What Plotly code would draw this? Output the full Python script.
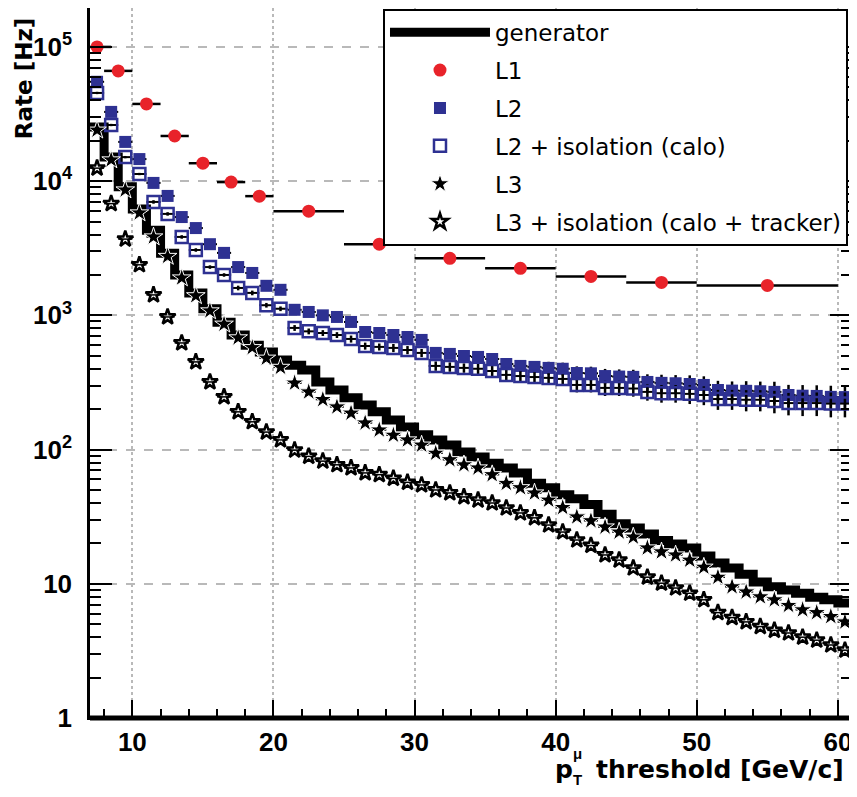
import plotly.graph_objects as go

# ---------------- data ----------------
# pT bins of 1 GeV/c: lower edges 7 ... 60
bin_lo = list(range(7, 61))
bin_ctr = [b + 0.5 for b in bin_lo]

generator = [25300, 15100, 9100, 6200, 4300, 2900, 2000, 1470, 1120, 890,
             714, 600, 534, 465, 425, 392, 319, 278, 243, 215,
             191, 166, 147, 129, 118, 108, 96, 88, 79, 73,
             67, 56, 52, 46, 43, 39, 33, 28, 26, 23.5,
             21, 19.8, 18.5, 16.1, 14.3, 13.1, 11.8, 10.3, 9.5, 9.0,
             8.5, 7.95, 7.6, 7.2]

l1_x = [7.5, 9, 11, 13, 15, 17, 19, 22.5, 27.5, 32.5, 37.5, 42.5, 47.5, 55]
l1_halfwidth = [1, 1, 1, 1, 1, 1, 1, 2.5, 2.5, 2.5, 2.5, 2.5, 2.5, 5]
l1_rate = [100000, 66300, 37600, 21700, 13600, 9840, 7730, 5970, 3390, 2660,
           2240, 1950, 1760, 1670]

l2_rate = [55000, 32800, 19600, 14600, 9700, 7760, 5400, 4470, 3390, 2920,
           2290, 2070, 1660, 1550, 1100, 1060, 1000, 973, 893, 752,
           739, 714, 690, 656, 525, 516, 498, 490, 473, 434,
           420, 413, 406, 400, 372, 370, 353, 350, 348, 319,
           314, 312, 308, 303, 278, 275, 274, 272, 269, 255,
           252, 251, 247, 246]

l2_iso_rate = [45400, 26200, 15100, 11300, 7000, 5700, 3840, 3070, 2290, 2000,
               1600, 1470, 1190, 1120, 806, 760, 739, 714, 667, 591,
               582, 572, 552, 525, 420, 413, 406, 400, 385, 360,
               353, 347, 342, 336, 303, 303, 288, 288, 285, 269,
               263, 263, 260, 255, 238, 238, 235, 235, 230, 222,
               222, 222, 220, 220]

l2_rel_err = [0.02, 0.02, 0.02, 0.02, 0.03, 0.03, 0.03, 0.03,
              0.03, 0.03, 0.04, 0.04, 0.04, 0.04,
              0.05, 0.05, 0.05, 0.05, 0.06, 0.06, 0.06, 0.07, 0.07, 0.07,
              0.08, 0.08, 0.08, 0.09, 0.09, 0.10, 0.10, 0.10, 0.11, 0.11,
              0.12, 0.12, 0.13, 0.13, 0.13, 0.14, 0.15, 0.15, 0.16, 0.16,
              0.17, 0.17, 0.18, 0.18, 0.19, 0.19, 0.20, 0.20, 0.21, 0.21]

l3_rate = [24000, 14400, 8600, 5800, 3840, 2750, 1900, 1400, 1080, 860,
           680, 575, 480, 410, 313, 269, 236, 208, 187, 158,
           140, 128, 118, 108, 94, 84, 77, 73, 65, 56,
           52, 47.5, 42, 37, 31.5, 29.5, 26.5, 24.3, 22.3, 18.5,
           17.3, 16.4, 15.0, 13.3, 11.2, 9.5, 8.7, 8.0, 7.6, 6.9,
           6.4, 6.1, 5.7, 5.2]

l3_iso_rate = [12500, 6800, 3700, 2380, 1420, 973, 623, 450, 319, 247,
               191, 161, 135, 118, 99, 89, 82, 77, 73, 67,
               65, 61, 57, 54.5, 50, 47.5, 44.4, 42, 40, 36.7,
               33.7, 31, 27.4, 24.3, 21.2, 19.3, 16.4, 15.0, 13.1, 11.2,
               10.1, 9.3, 8.5, 7.6, 6.1, 5.6, 5.2, 4.8, 4.5, 4.3,
               4.0, 3.8, 3.5, 3.2]

x_ticks = [10, 20, 30, 40, 50, 60]
x_minor = [8, 12, 14, 16, 18, 22, 24, 26, 28, 32, 34, 36, 38, 42, 44, 46, 48, 52, 54, 56, 58]
y_ticks = [1, 10, 100, 1000, 10000, 100000]
y_ticktext = ["1", "10", "10<sup>2</sup>", "10<sup>3</sup>", "10<sup>4</sup>", "10<sup>5</sup>"]

# ---------------- styling ----------------
RED = "#e8232a"
BLUE = "#2e3192"
FONT = "Liberation Sans"
WIDE = "DejaVu Sans"

fig = go.Figure()

gen_x = bin_lo + [bin_lo[-1] + 1]
gen_y = generator + [generator[-1]]
fig.add_trace(go.Scatter(x=gen_x, y=gen_y, mode="lines", name="generator", legendgroup="g1",
                         line=dict(color="black", width=9, shape="hv")))

fig.add_trace(go.Scatter(x=l1_x, y=l1_rate, mode="markers", name="L1", legendgroup="g2",
                         marker=dict(symbol="circle", size=13, color=RED),
                         error_x=dict(type="data", array=l1_halfwidth, color="black",
                                      thickness=2.5, width=0)))

half_bin = [0.5] * len(bin_ctr)
fig.add_trace(go.Scatter(x=bin_ctr, y=l2_rate, mode="markers", name="L2", legendgroup="g3",
                         marker=dict(symbol="square", size=12, color=BLUE),
                         error_x=dict(type="data", array=half_bin, color="black",
                                      thickness=2, width=0),
                         error_y=dict(type="data", array=[v * e for v, e in zip(l2_rate, l2_rel_err)],
                                      color="black", thickness=2.5, width=0)))

fig.add_trace(go.Scatter(x=bin_ctr, y=l2_iso_rate, mode="markers", name="L2 + isolation (calo)",
                         legendgroup="g4",
                         marker=dict(symbol="square-open", size=12, color=BLUE,
                                     line=dict(width=2.5, color=BLUE)),
                         error_x=dict(type="data", array=half_bin, color="black",
                                      thickness=2, width=0),
                         error_y=dict(type="data", array=[v * e for v, e in zip(l2_iso_rate, l2_rel_err)],
                                      color="black", thickness=2.5, width=0)))

fig.add_trace(go.Scatter(x=bin_ctr, y=l3_rate, mode="markers", name="L3", legendgroup="g5",
                         marker=dict(symbol="star", size=14, color="black",
                                     line=dict(width=1, color="white")),
                         error_x=dict(type="data", array=half_bin, color="black",
                                      thickness=1.5, width=0)))

fig.add_trace(go.Scatter(x=bin_ctr, y=l3_iso_rate, mode="markers",
                         name="L3 + isolation (calo + tracker)", legendgroup="g6",
                         marker=dict(symbol="star-open", size=12, color="black",
                                     line=dict(width=2.5, color="black")),
                         error_x=dict(type="data", array=half_bin, color="black",
                                      thickness=1.5, width=0)))

minor_y = [m * 10 ** e for e in range(0, 6) for m in range(2, 10)]

# The page body adds an 8 px offset, so the figure is made 8 px smaller
fig.update_layout(
    width=849, height=789,
    margin=dict(l=82, r=5, t=0, b=79, autoexpand=False),
    paper_bgcolor="white", plot_bgcolor="white",
    font=dict(family=FONT, color="black"),
    showlegend=True,
    legend=dict(x=0.3845, y=0.999, xanchor="left", yanchor="top",
                bgcolor="white", bordercolor="black", borderwidth=2,
                font=dict(family=WIDE, size=23, color="black"),
                itemwidth=100, tracegroupgap=5, traceorder="grouped"),
    xaxis=dict(range=[7, 61], tickmode="array", tickvals=x_ticks, automargin=False,
               ticks="inside", ticklen=18, tickwidth=2, tickcolor="black",
               showline=True, linewidth=2, linecolor="black", mirror=True,
               showgrid=True, gridcolor="#b9b9b9", griddash="dot", gridwidth=1.5,
               zeroline=False,
               tickfont=dict(family=FONT, size=26, color="black", weight="bold"),
               minor=dict(tickmode="array", tickvals=x_minor,
                          ticks="inside", ticklen=9, tickwidth=2, tickcolor="black", showgrid=False)),
    yaxis=dict(type="log", range=[0, 5.29], tickmode="array", tickvals=y_ticks, ticktext=y_ticktext,
               automargin=False,
               ticks="inside", ticklen=22, tickwidth=2, tickcolor="black",
               showline=True, linewidth=2.5, linecolor="black", mirror="ticks",
               showgrid=True, gridcolor="#b9b9b9", griddash="dash", gridwidth=1.5,
               zeroline=False, ticklabelstandoff=10,
               tickfont=dict(family=FONT, size=26, color="black", weight="bold"),
               minor=dict(tickmode="array", tickvals=minor_y, ticks="inside", ticklen=11,
                          tickwidth=2, tickcolor="black", showgrid=False)),
)

# thicker bottom frame line
fig.add_shape(type="line", xref="x domain", yref="y domain", x0=0, x1=1, y0=0, y1=0,
              line=dict(color="black", width=5), layer="above")

# axis titles
fig.add_annotation(text="<b>Rate [Hz]</b>", xref="paper", yref="paper",
                   x=-0.0865, y=0.990, xanchor="center", yanchor="top", textangle=-90,
                   showarrow=False, font=dict(family=WIDE, size=23, color="black"))
fig.add_annotation(text="<b>threshold [GeV/c]</b>", xref="paper", yref="paper",
                   x=0.992, y=-0.073, xanchor="right", yanchor="middle",
                   showarrow=False, font=dict(family=WIDE, size=25, color="black"))
fig.add_annotation(text="<b>p</b>", xref="paper", yref="paper",
                   x=0.637, y=-0.073, xanchor="right", yanchor="middle",
                   showarrow=False, font=dict(family=WIDE, size=25, color="black"))
fig.add_annotation(text="<b>μ</b>", xref="paper", yref="paper",
                   x=0.640, y=-0.050, xanchor="center", yanchor="middle",
                   showarrow=False, font=dict(family=FONT, size=15, color="black"))
fig.add_annotation(text="<b>T</b>", xref="paper", yref="paper",
                   x=0.640, y=-0.087, xanchor="center", yanchor="middle",
                   showarrow=False, font=dict(family=FONT, size=15, color="black"))

fig.write_html("out.html")
